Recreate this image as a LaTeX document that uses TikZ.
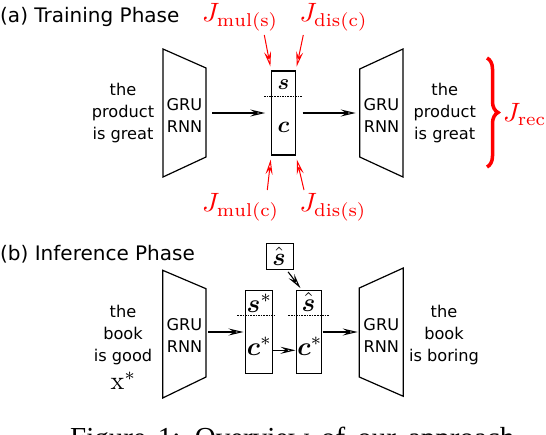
\documentclass[tikz,border=0pt]{standalone}
\usepackage{amsmath}
\usepackage{graphicx}
\usepackage{fontspec}
\newfontfamily\djv{DejaVu Sans}
\newfontfamily\tmsr{Liberation Serif}
\usetikzlibrary{arrows.meta,decorations.pathreplacing,calc}
\newcommand\Jl[1]{\scalebox{2.65}{$J_{\mathrm{#1}}$}}
\newcommand\msym[2]{\scalebox{#1}{$#2$}}
\tikzset{
 lab/.style={font=\djv\fontsize{16.2}{22}\selectfont, align=center, inner sep=0pt},
 head/.style={font=\djv\fontsize{20}{24}\selectfont, inner sep=0pt, anchor=base west},
 trap/.style={draw, line width=1.2pt, line join=miter},
 zbox/.style={draw, line width=1.1pt, inner sep=0pt},
 sepline/.style={line width=0.8pt, dash pattern=on 1.6pt off 1pt},
 arr/.style={line width=1.1pt, -{Stealth[length=15pt,width=7pt,inset=5.5pt,open]}},
 rarr/.style={arr, red, line width=1pt},
 jlab/.style={red, inner sep=0pt, anchor=base west},
 sym/.style={inner sep=0pt, anchor=base},
}
\begin{document}
\begin{tikzpicture}[x=1pt,y=-1pt]
\useasboundingbox (0,0) rectangle (546,434);
% headings
\node[head] (ha) at (0,22.7) {(a) Training Phase};
\node[head] (hb) at (0,260.3) {(b) Inference Phase};

% ---------------- Training ----------------
\draw[trap] (163,49) -- (206,68) -- (206,157) -- (163,177) -- cycle;
\coordinate (encAr) at (206,113);
\node[lab] (encA) at (184.5,115) {GRU\\RNN};
\node[lab] (inA) at (123,113.3) {the\\product\\is great};

\node[zbox, minimum width=23.6pt, minimum height=84pt] (zA) at (283.5,113) {};
\draw[sepline] (264,96.3) -- (302.7,96.3);
\node[sym] (sA) at (283.5,89.3) {\msym{2.2}{\boldsymbol{s}}};
\node[sym] (cA) at (283.5,132.3) {\msym{2.3}{\boldsymbol{c}}};

\draw[trap] (359.7,69) -- (403,49) -- (403,177) -- (359.7,157) -- cycle;
\coordinate (decAl) at (359.7,113);
\node[lab] (decA) at (381.5,115) {GRU\\RNN};
\node[lab] (outA) at (444.7,113.3) {the\\product\\is great};

\draw[arr, shorten <=6pt, shorten >=6pt] (encAr) -- (zA.west);
\draw[arr, shorten <=6.7pt, shorten >=4pt] (zA.east) -- (decAl);

% losses
\node[jlab] (Jms) at (202,21.7) {\Jl{mul(s)}};
\node[jlab] (Jdc) at (299.3,21.7) {\Jl{dis(c)}};
\node[jlab] (Jmc) at (202,211.7) {\Jl{mul(c)}};
\node[jlab] (Jds) at (299.3,211.7) {\Jl{dis(s)}};
\node[jlab] (Jrec) at (503,121.7) {\Jl{rec}};
\coordinate (tJms) at (264.3,35);
\coordinate (tJdc) at (303.3,35);
\coordinate (tJmc) at (267.3,190);
\coordinate (tJds) at (304,190);
\draw[rarr, shorten >=4pt] (tJms) -- (zA.north west);
\draw[rarr, shorten >=4pt] (tJdc) -- (zA.north east);
\draw[rarr, shorten >=4pt] (tJmc) -- (zA.south west);
\draw[rarr, shorten >=4pt] (tJds) -- (zA.south east);
\draw[red, line width=3.5pt, decorate, decoration={brace, amplitude=11pt}] (487,58) -- (487,167);

% ---------------- Inference ----------------
\draw[trap] (162.7,270.3) -- (206,288.7) -- (206,377) -- (162.7,398) -- cycle;
\coordinate (encBr) at (206,332);
\node[lab] (encB) at (184.5,335.3) {GRU\\RNN};
\node[lab] (inB) at (123,334.7) {the\\book\\is good};
\node[sym] (xs) at (123.5,389.5) {\msym{2.6}{\mathrm{x}^*}};

\node[zbox, minimum width=27.7pt, minimum height=83.4pt] (z1) at (258.9,332) {};
\draw[sepline] (237.3,315.7) -- (276,315.7);
\node[sym] (s1) at (259.5,312) {\msym{2.6}{\boldsymbol{s}^*}};
\node[sym] (c1) at (259.5,355.3) {\msym{2.6}{\boldsymbol{c}^*}};

\node[zbox, minimum width=25.3pt, minimum height=83.4pt] (z2) at (308.7,332) {};
\draw[sepline] (288.3,315.7) -- (329.3,315.7);
\node[sym] (s2) at (308.5,311.3) {\msym{2.6}{\hat{\boldsymbol{s}}}};
\node[sym] (c2) at (310,355) {\msym{2.6}{\boldsymbol{c}^*}};

\node[zbox, minimum width=27.7pt, minimum height=26pt] (shb) at (279.9,256.7) {};
\node[sym] (shs) at (279,265.3) {\msym{2.5}{\hat{\boldsymbol{s}}}};

\draw[trap] (359.3,288) -- (403.3,268) -- (403.3,396.3) -- (359.3,377) -- cycle;
\coordinate (decBl) at (359.3,332);
\node[lab] (decB) at (381.3,335.3) {GRU\\RNN};
\node[lab] (outB) at (444,334.7) {the\\book\\is boring};

\draw[arr, shorten <=2pt, shorten >=1pt] (encBr) -- (z1.west);
\draw[arr] ($(z1.east)+(0,18.3)$) -- ($(z2.west)+(0,18.3)$);
\draw[arr, shorten <=0.7pt, shorten >=1.6pt] (z2.east) -- (decBl);
\draw[arr, shorten <=2pt, shorten >=2pt] ($(shb.south)+(7,0)$) -- ($(z2.north)+(-7,0)$);

% caption (cut by the picture's lower edge)
\begin{scope}
\clip (0,0) rectangle (546,434);
\node[anchor=base west, inner sep=0pt, font=\tmsr\fontsize{29}{29}\selectfont] (cap) at (70,447.5) {\spaceskip=12pt Figure 1: Overview of our approach.};
\end{scope}
\end{tikzpicture}
\end{document}
